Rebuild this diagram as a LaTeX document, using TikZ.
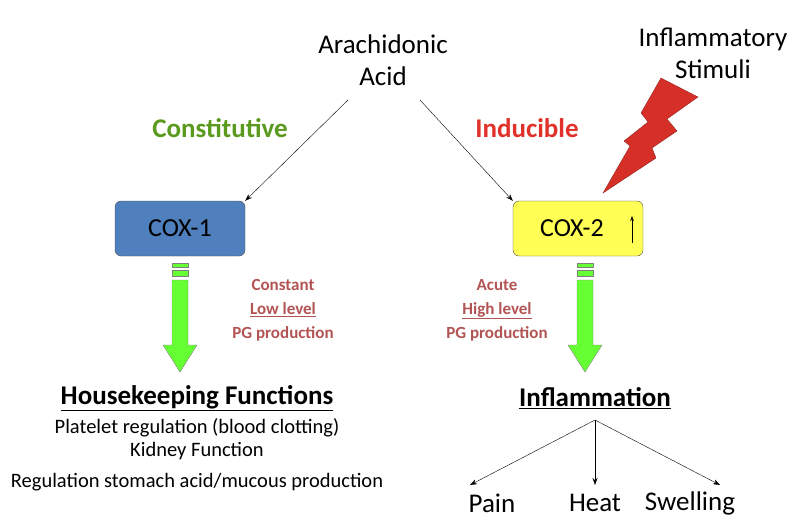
\documentclass[tikz,border=0pt]{standalone}
\usepackage{fontspec}
\setmainfont{Carlito}
\usetikzlibrary{arrows.meta}
\definecolor{cblue}{HTML}{4F7FBD}
\definecolor{cyel}{HTML}{FFFF55}
\definecolor{cgreen}{HTML}{66FF33}
\definecolor{ctxt}{HTML}{B35454}
\definecolor{lgreen}{HTML}{5A9A1E}
\definecolor{lred}{HTML}{E0312A}
\begin{document}
\begin{tikzpicture}[x=1pt,y=-1pt,
  big/.style={font=\fontsize{27}{32}\selectfont},
  bigb/.style={font=\fontsize{27}{32}\selectfont\bfseries},
  small/.style={font=\fontsize{20.5}{24}\selectfont},
  mid/.style={font=\fontsize{17}{24}\selectfont\bfseries,text=ctxt,align=center},
  box/.style={draw=black!70,rounded corners=6pt,minimum width=130pt,minimum height=55pt,font=\fontsize{26}{30}\selectfont},
  arr/.style={-{Stealth[length=7pt,width=5pt]},thin},
  blk/.style={fill=cgreen,draw=black!50,line width=0.4pt}]
\useasboundingbox (0,0) rectangle (800,523);
\node[big,align=center] (aa) at (383,60) {Arachidonic\\Acid};
\node[big,align=center] (is) at (713,53) {Inflammatory\\Stimuli};
\node[bigb,text=lgreen] (con) at (220,128) {Constitutive};
\node[bigb,text=lred] (ind) at (527,128) {Inducible};
\node[box,fill=cblue] (c1) at (180,228.5) {COX-1};
\node[box,fill=cyel] (c2) at (578,228.5) {\hspace*{-12pt}COX-2};
\coordinate (ua) at (632,243); \coordinate (ub) at (632,216);
\draw[-{Stealth[length=5pt,width=3.5pt]}] (ua) -- (ub);
\coordinate (a1) at (348,100); \coordinate (a2) at (420,100);
\draw[arr] (a1) -- (c1.north east);
\draw[arr] (a2) -- (c2.north west);
\foreach \cx in {180,585}{
  \draw[blk] (\cx-8,263) rectangle (\cx+8,267);
  \draw[blk] (\cx-8,270) rectangle (\cx+8,276);
  \draw[blk] (\cx-8,280) -- (\cx+8,280) -- (\cx+8,345) -- (\cx+17,345) -- (\cx,372) -- (\cx-17,345) -- (\cx-8,345) -- cycle;
}
\node[mid] (t1) at (283,310) {Constant\\\underline{Low level}\\PG production};
\node[mid] (t2) at (497,310) {Acute\\\underline{High level}\\PG production};
\node[bigb] (hk) at (197,398) {\underline{Housekeeping Functions}};
\node[small] (l1) at (197,428) {Platelet regulation (blood clotting)};
\node[small] (l2) at (197,451) {Kidney Function};
\node[small] (l3) at (197,482) {Regulation stomach acid/mucous production};
\node[bigb] (inf) at (595,398) {\underline{Inflammation}};
\node[big] (p) at (492,503) {Pain};
\node[big] (h) at (595,503) {Heat};
\node[big] (s) at (690,503) {Swelling};
\coordinate (br) at (595,420);
\draw[arr] (br) -- (470,485);
\draw[arr] (br) -- (595,485);
\draw[arr] (br) -- (720,485);
\fill[lred!95!black,draw=lred!60!black,line width=0.3pt] (661,78) -- (698,97) -- (667,119) -- (677,131) -- (652,148) -- (656,158) -- (603,193) -- (630,146) -- (624,141) -- (648,122) -- (641,113) -- cycle;
\end{tikzpicture}
\end{document}
